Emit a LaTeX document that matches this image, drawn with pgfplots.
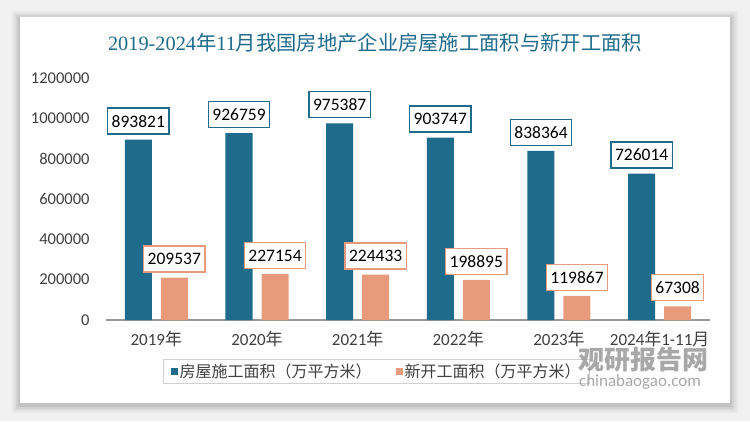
\documentclass[border=0pt]{standalone}
\usepackage{fontspec}
\setmainfont{Carlito}
\newfontfamily\cjk{Noto Sans CJK SC}
\newfontfamily\sernum{Liberation Serif}
\usepackage{pgfplots}
\pgfplotsset{compat=1.18}
\definecolor{cblue}{RGB}{31,107,140}
\definecolor{csal}{RGB}{232,155,122}
\definecolor{tgray}{RGB}{64,64,64}
\begin{document}
\begin{tikzpicture}[x=1pt,y=1pt]
\fill[black!6] (0,0) rectangle (750,421);
\foreach \i/\o in {8/0.03,6/0.04,4/0.05,2/0.07}{\fill[black,opacity=\o] (20-\i,18-\i-2) rectangle (730+\i,404+\i-2);}
\fill[white] (20,18) rectangle (730,404);
\node[text=cblue,font=\fontsize{20.3}{23}\selectfont] at (375,378) {{\sernum 2019-2024}{\cjk 年}{\sernum 11}{\cjk 月我国房地产企业房屋施工面积与新开工面积}};
\begin{axis}[at={(106pt,101pt)}, anchor=south west, scale only axis,
  width=604pt, height=242pt,
  xmin=-0.5, xmax=5.5, ymin=0, ymax=1200000,
  ytick={0,200000,400000,600000,800000,1000000,1200000},
  scaled y ticks=false,
  yticklabel style={/pgf/number format/fixed, /pgf/number format/1000 sep={}, /pgf/number format/assume math mode=true, font=\fontsize{16.5}{18}\selectfont, text=tgray, xshift=-13pt},
  xtick={0,1,2,3,4,5},
  xticklabels={2019{\cjk 年},2020{\cjk 年},2021{\cjk 年},2022{\cjk 年},2023{\cjk 年},2024{\cjk 年}1-11{\cjk 月}},
  xticklabel style={font=\fontsize{17}{19}\selectfont, text=tgray, yshift=-8pt},
  axis x line*=bottom, axis y line*=left,
  y axis line style={draw=none},
  x axis line style={draw=black!40, line width=1.5pt, -},
  major tick length=0pt,
  clip=false,
  point meta=explicit symbolic,
  nodes near coords,
  legend style={at={(0.448,-0.213)}, anchor=center, legend columns=2, draw=black!18, line width=1pt,
    font=\cjk\fontsize{16}{18}\selectfont, text=tgray, inner xsep=7pt, inner ysep=2.5pt,
    /tikz/every even column/.append style={column sep=22pt}},
]
\addplot[ybar, bar width=27pt, bar shift=-18pt, fill=cblue, draw=none,
  legend image code/.code={\fill[cblue] (0pt,-3.5pt) rectangle (7pt,3.5pt);},
  every node near coord/.append style={draw=cblue, fill=white, line width=1.3pt, text=black,
    font=\fontsize{17.5}{19}\selectfont, inner xsep=4pt, minimum height=26pt, anchor=south, yshift=5pt, xshift=-18pt}]
  coordinates {(0,893821)[893821] (1,926759)[926759] (2,975387)[975387] (3,903747)[903747] (4,838364)[838364] (5,726014)[726014]};
\addlegendentry{房屋施工面积（万平方米）}
\addplot[ybar, bar width=27pt, bar shift=18pt, fill=csal, draw=none,
  legend image code/.code={\fill[csal] (0pt,-3.5pt) rectangle (7pt,3.5pt);},
  every node near coord/.append style={draw=csal, fill=white, line width=1.3pt, text=black,
    font=\fontsize{17.5}{19}\selectfont, inner xsep=4pt, minimum height=26pt, anchor=south, yshift=5pt, xshift=18pt}]
  coordinates {(0,209537)[209537] (1,227154)[227154] (2,224433)[224433] (3,198895)[198895] (4,119867)[119867] (5,67308)[67308]};
\addlegendentry{新开工面积（万平方米）}
\end{axis}
\node[text=black!45, opacity=0.75, font=\cjk\bfseries\fontsize{26}{28}\selectfont] at (643,61) {观研报告网};
\node[text=black!45, opacity=0.75, font=\fontsize{17}{19}\selectfont] at (640,39) {chinabaogao.com};
\pgfresetboundingbox
\useasboundingbox (0,0) rectangle (750,421);
\end{tikzpicture}
\end{document}
